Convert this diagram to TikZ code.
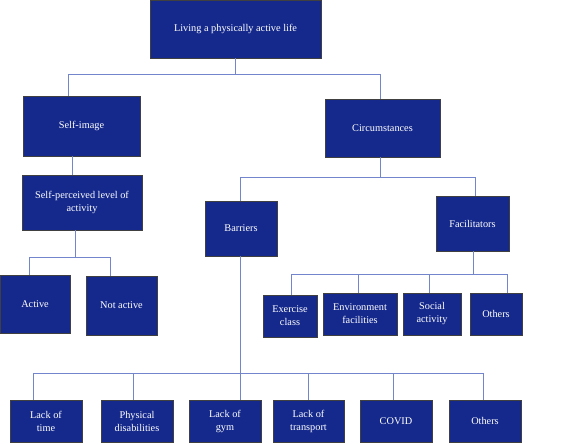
\documentclass[tikz,border=0pt]{standalone}
\usepackage{fontspec}
\setmainfont{Liberation Serif}
\usepackage{tikz}
\definecolor{boxblue}{HTML}{15298C}
\definecolor{linkblue}{HTML}{7385CC}

\begin{document}
\begin{tikzpicture}[x=1pt,y=-1pt,
	box/.style={rectangle,draw=black!75,fill=boxblue,text=white,align=center,inner sep=0,line width=0.6pt,font=\fontsize{10.3}{13}\selectfont},
	link/.style={draw=linkblue,line width=0.8pt}]
	\useasboundingbox (0,0) rectangle (571,444);
	\node[box,minimum width=171pt,minimum height=58pt] (life) at (235.5,29) {Living a physically active life};
	\node[box,minimum width=117pt,minimum height=60pt] (self) at (81.5,126) {Self-image};
	\node[box,minimum width=115pt,minimum height=58pt] (circ) at (382.5,128) {Circumstances};
	\node[box,minimum width=120pt,minimum height=55pt] (level) at (82,202.5) {Self-perceived level of\\activity};
	\node[box,minimum width=72pt,minimum height=55pt] (barr) at (241,228.5) {Barriers};
	\node[box,minimum width=73pt,minimum height=55pt] (facil) at (472.5,223.5) {Facilitators};
	\node[box,minimum width=70pt,minimum height=58pt] (active) at (35,304) {Active};
	\node[box,minimum width=71pt,minimum height=59pt] (notact) at (121.5,305.5) {Not active};
	\node[box,minimum width=54pt,minimum height=42pt] (exer) at (290,316) {Exercise\\class};
	\node[box,minimum width=74pt,minimum height=42pt] (env) at (360,314) {Environment\\facilities};
	\node[box,minimum width=58pt,minimum height=42pt] (social) at (432,314) {Social\\activity};
	\node[box,minimum width=52pt,minimum height=42pt] (fothers) at (496,314) {Others};
	\node[box,minimum width=72pt,minimum height=42pt] (time) at (46,421) {Lack of\\time};
	\node[box,minimum width=72pt,minimum height=42pt] (phys) at (137,421) {Physical\\disabilities};
	\node[box,minimum width=72pt,minimum height=42pt] (gym) at (225,421) {Lack of\\gym};
	\node[box,minimum width=71pt,minimum height=42pt] (trans) at (308.5,421) {Lack of\\transport};
	\node[box,minimum width=72pt,minimum height=42pt] (covid) at (396,421) {COVID};
	\node[box,minimum width=72pt,minimum height=42pt] (bothers) at (485,421) {Others};
	% top level
	\draw[link] (life.south) -- ++(0,16) coordinate (j0);
	\draw[link] ([xshift=-13.5pt]self.north) |- (j0) -| ([xshift=-2.5pt]circ.north);
	\draw[link] ([xshift=-9.5pt]self.south) -- ([xshift=-10pt]level.north);
	% self-perceived level
	\draw[link] ([xshift=-7pt]level.south) -- ++(0,27) coordinate (j1);
	\draw[link] ([xshift=-6pt]active.north) |- (j1) -| ([xshift=-11.5pt]notact.north);
	% circumstances
	\draw[link] ([xshift=-2.5pt]circ.south) -- ++(0,20) coordinate (j2);
	\draw[link] ([xshift=-1pt]barr.north) |- (j2) -| ([xshift=2.5pt]facil.north);
	% facilitators
	\draw[link] ([xshift=0.5pt]facil.south) -- ++(0,23) coordinate (j3);
	\draw[link] ([xshift=1pt]exer.north) |- (j3) -| ([xshift=11pt]fothers.north);
	\draw[link] ([xshift=-2pt]env.north) |- (j3);
	\draw[link] ([xshift=-3pt]social.north) |- (j3);
	% barriers
	\draw[link] ([xshift=-1pt]barr.south) -- ++(0,117) coordinate (j4);
	\draw[link] ([xshift=-13pt]time.north) |- (j4) -| ([xshift=-2pt]bothers.north);
	\draw[link] ([xshift=-4pt]phys.north) |- (j4);
	\draw[link] (j4) -- ([xshift=15pt]gym.north);
	\draw[link] ([xshift=-0.5pt]trans.north) |- (j4);
	\draw[link] ([xshift=-3pt]covid.north) |- (j4);
\end{tikzpicture}
\end{document}
